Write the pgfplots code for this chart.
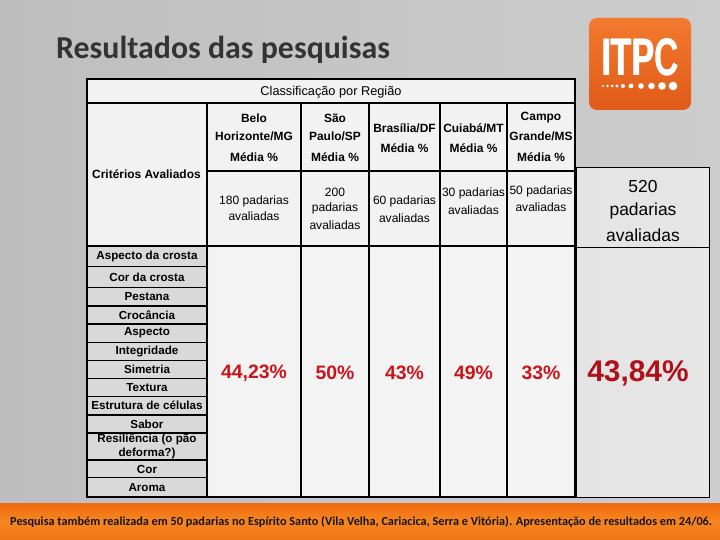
\documentclass[border=0pt]{standalone}
\usepackage{pgfplots}
\pgfplotsset{compat=1.18}
\usepackage{fontspec}
\setmainfont{Liberation Sans}
\newfontfamily\calibri{Carlito}
\definecolor{valred}{HTML}{CC151B}
\definecolor{bigred}{HTML}{B0101A}
\definecolor{bgL}{HTML}{BEBEBE}
\definecolor{bgM}{HTML}{F2F2F2}
\definecolor{bgR}{HTML}{CDCDCD}
\definecolor{orgT}{HTML}{F06A10}
\definecolor{orgM}{HTML}{F6861F}
\definecolor{orgB}{HTML}{EE7414}
\definecolor{logoT}{HTML}{F27A2E}
\definecolor{logoB}{HTML}{E05A18}
\definecolor{critgray}{HTML}{D9D9D9}
\definecolor{titlegray}{HTML}{333333}
\newcommand{\hdr}{\bfseries\fontsize{12}{14}\selectfont}
\newcommand{\crit}{\bfseries\fontsize{11.7}{14}\selectfont}
\newcommand{\reg}{\fontsize{12.1}{14}\selectfont}
\begin{document}
\begin{tikzpicture}
\begin{axis}[width=720bp,height=540bp,scale only axis,
  xmin=0,xmax=720,ymin=0,ymax=540,y dir=reverse,
  axis lines=none,ticks=none,clip=false]
% background
\shade[left color=bgL,middle color=bgM,right color=bgR] (0,0) rectangle (720,540);
\shade[top color=orgT,bottom color=orgM] (0,503) rectangle (720,521);
\shade[top color=orgM,bottom color=orgB] (0,521) rectangle (720,540);
% title
\node[anchor=base west,text=titlegray,font=\calibri\bfseries\fontsize{32}{36}\selectfont,inner sep=0] at (56,59) {Resultados das pesquisas};
% logo
\shade[rounded corners=8bp,top color=logoT,bottom color=logoB] (589,18) rectangle (691,110);
\node[anchor=base,text=white,inner sep=0] at (640,76) {\scalebox{0.64}[1]{\fontsize{53}{53}\selectfont\bfseries ITPC}};
\node[anchor=base,text=white,inner sep=0] at (640.8,76) {\scalebox{0.64}[1]{\fontsize{53}{53}\selectfont\bfseries ITPC}};
\fill[white] (603,86) circle[radius=1.2bp];
\fill[white] (607.5,86) circle[radius=1.3bp];
\fill[white] (612,86) circle[radius=1.5bp];
\fill[white] (617,86) circle[radius=1.7bp];
\fill[white] (623,86) circle[radius=2.0bp];
\fill[white] (631,86) circle[radius=2.4bp];
\fill[white] (641,86) circle[radius=2.8bp];
\fill[white] (651.5,86) circle[radius=3.3bp];
\fill[white] (662,86) circle[radius=3.8bp];
\fill[white] (673,86) circle[radius=4.3bp];
% table fills
\fill[white,opacity=0.8] (87,79) rectangle (575,497);
\fill[gray!10,opacity=0.8] (87,79) rectangle (575,246);
\fill[critgray] (87,246) rectangle (207,497);
\fill[white,opacity=0.5] (576,167) rectangle (709,497);
% table lines
\draw[line width=1.6bp] (87,79) rectangle (575,497);
\draw[line width=1.6bp] (87,103) -- (575,103);
\draw[line width=1.6bp] (207,171) -- (575,171);
\draw[line width=1.6bp] (87,246) -- (575,246);
\draw[line width=1.6bp] (207,103) -- (207,497);
\draw[line width=1.6bp] (301,103) -- (301,497);
\draw[line width=1.6bp] (369,103) -- (369,497);
\draw[line width=1.6bp] (440,103) -- (440,497);
\draw[line width=1.6bp] (507,103) -- (507,497);
\draw[line width=1.6bp] (87,266.5) -- (207,266.5);
\draw[line width=1.6bp] (87,287.5) -- (207,287.5);
\draw[line width=1.6bp] (87,306) -- (207,306);
\draw[line width=1.6bp] (87,324) -- (207,324);
\draw[line width=1.6bp] (87,342.5) -- (207,342.5);
\draw[line width=1.6bp] (87,360.5) -- (207,360.5);
\draw[line width=1.6bp] (87,378.5) -- (207,378.5);
\draw[line width=1.6bp] (87,396.5) -- (207,396.5);
\draw[line width=1.6bp] (87,415) -- (207,415);
\draw[line width=1.6bp] (87,433) -- (207,433);
\draw[line width=1.6bp] (87,460) -- (207,460);
\draw[line width=1.6bp] (87,477.5) -- (207,477.5);
\draw[line width=0.8bp] (576,167) rectangle (709,497);
\draw[line width=0.8bp] (576,247) -- (709,247);
% header texts
\node[inner sep=0,font=\fontsize{12.8}{14}\selectfont] at (331,92) {Classificação por Região};
\node[inner sep=0,font=\hdr,anchor=west] at (92,174) {Critérios Avaliados};
\node[inner sep=0,font=\hdr] at (254,118) {Belo};
\node[inner sep=0,font=\hdr] at (254,136) {Horizonte/MG};
\node[inner sep=0,font=\hdr] at (254,157) {Média \%};
\node[inner sep=0,font=\hdr] at (335,118) {São};
\node[inner sep=0,font=\hdr] at (335,136) {Paulo/SP};
\node[inner sep=0,font=\hdr] at (335,157) {Média \%};
\node[inner sep=0,font=\hdr] at (404.5,128) {Brasília/DF};
\node[inner sep=0,font=\hdr] at (404.5,148) {Média \%};
\node[inner sep=0,font=\hdr] at (473.5,128) {Cuiabá/MT};
\node[inner sep=0,font=\hdr] at (473.5,148) {Média \%};
\node[inner sep=0,font=\hdr] at (541,118) {Campo};
\node[inner sep=0,font=\hdr] at (541,136) {Grande/MS};
\node[inner sep=0,font=\hdr] at (541,157) {Média \%};
% padarias
\node[inner sep=0,font=\reg] at (254,201.5) {180 padarias};
\node[inner sep=0,font=\reg] at (254,216) {avaliadas};
\node[inner sep=0,font=\reg] at (335,192) {200};
\node[inner sep=0,font=\reg] at (335,208.5) {padarias};
\node[inner sep=0,font=\reg] at (335,225.5) {avaliadas};
\node[inner sep=0,font=\reg] at (404.5,201) {60 padarias};
\node[inner sep=0,font=\reg] at (404.5,218) {avaliadas};
\node[inner sep=0,font=\reg] at (473.5,193) {30 padarias};
\node[inner sep=0,font=\reg] at (473.5,210) {avaliadas};
\node[inner sep=0,font=\reg] at (541,191) {50 padarias};
\node[inner sep=0,font=\reg] at (541,207) {avaliadas};
\node[inner sep=0,font=\fontsize{17.5}{20}\selectfont] at (643,186) {520};
\node[inner sep=0,font=\fontsize{17.5}{20}\selectfont] at (643,211) {padarias};
\node[inner sep=0,font=\fontsize{17.5}{20}\selectfont] at (643,235) {avaliadas};
% criteria
\node[inner sep=0,font=\crit] at (147,256) {Aspecto da crosta};
\node[inner sep=0,font=\crit] at (147,277) {Cor da crosta};
\node[inner sep=0,font=\crit] at (147,297) {Pestana};
\node[inner sep=0,font=\crit] at (147,315) {Crocância};
\node[inner sep=0,font=\crit] at (147,333) {Aspecto};
\node[inner sep=0,font=\crit] at (147,351.5) {Integridade};
\node[inner sep=0,font=\crit] at (147,369.5) {Simetria};
\node[inner sep=0,font=\crit] at (147,387.5) {Textura};
\node[inner sep=0,font=\crit] at (147,405.5) {Estrutura de células};
\node[inner sep=0,font=\crit] at (147,424) {Sabor};
\node[inner sep=0,font=\crit] at (147,439) {Resiliência (o pão};
\node[inner sep=0,font=\crit] at (147,453) {deforma?)};
\node[inner sep=0,font=\crit] at (147,469) {Cor};
\node[inner sep=0,font=\crit] at (147,487.5) {Aroma};
% footer
\node[inner sep=0,anchor=base west,font=\calibri\bfseries\fontsize{12.3}{14}\selectfont,text=black!92] at (10,525) {Pesquisa também realizada em 50 padarias no Espírito Santo (Vila Velha, Cariacica, Serra e Vitória). Apresentação de resultados em 24/06.};
% values per region
\addplot[draw=none,mark=none,point meta=explicit,
  nodes near coords={\pgfmathprintnumber[fixed,precision=2,use comma,assume math mode=true]{\pgfplotspointmeta}\%},
  every node near coord/.append style={anchor=center,inner sep=0,text=valred,font=\bfseries\fontsize{19.5}{22}\selectfont}]
  table[meta=v] {
x y v
254 373 44.23
335 373 50
404.5 373 43
473.5 373 49
541 373 33
};
% overall value
\addplot[draw=none,mark=none,point meta=explicit,
  nodes near coords={\pgfmathprintnumber[fixed,precision=2,use comma,assume math mode=true]{\pgfplotspointmeta}\%},
  every node near coord/.append style={anchor=center,inner sep=0,text=bigred,font=\bfseries\fontsize{30}{34}\selectfont}]
  table[meta=v] {
x y v
638 373 43.84
};
\end{axis}
\end{tikzpicture}
\end{document}
